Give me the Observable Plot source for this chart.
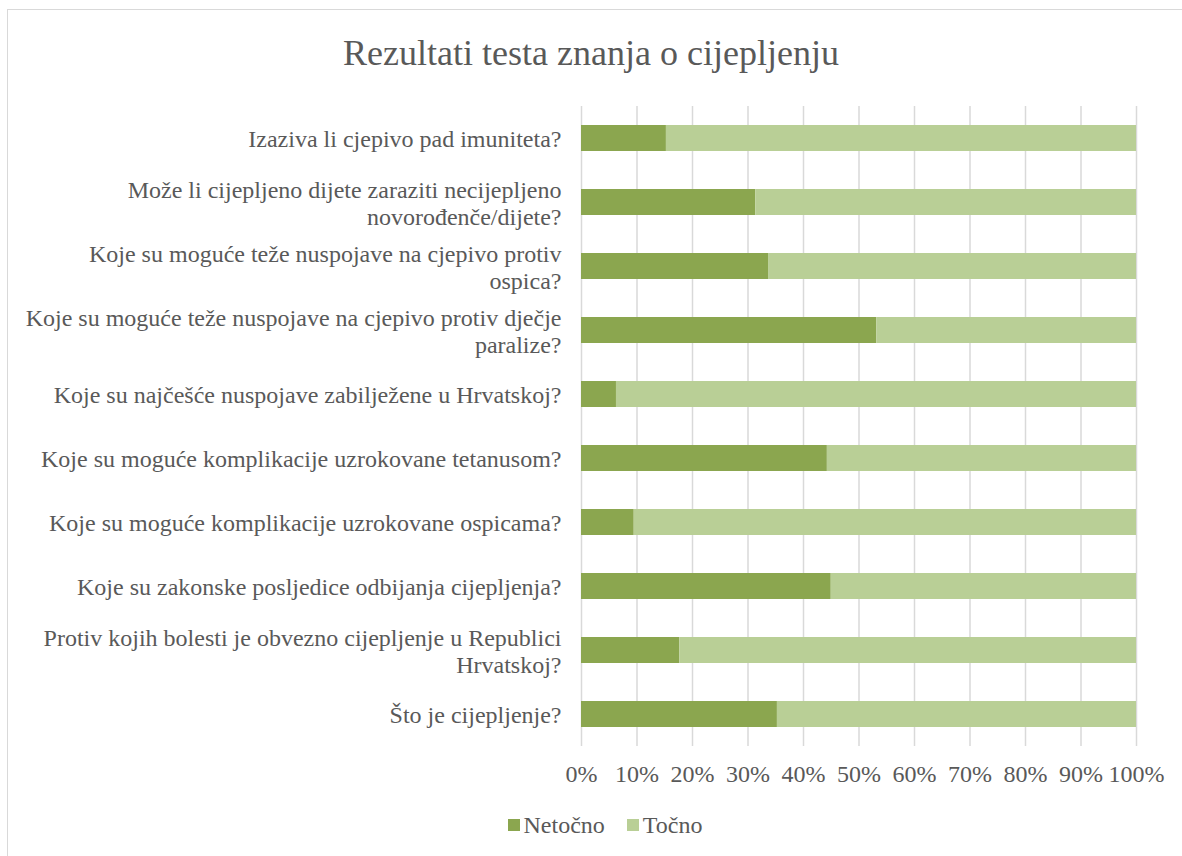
<!DOCTYPE html>
<html>
<head>
<meta charset="utf-8">
<script src="https://cdn.jsdelivr.net/npm/d3@7"></script>
<script src="https://cdn.jsdelivr.net/npm/@observablehq/plot@0.6"></script>
<style>
  html, body { margin: 0; padding: 0; background: #fff; overflow: hidden; }
  body { width: 1182px; height: 856px; position: relative; font-family: "Liberation Serif", "Times New Roman", serif; color: #595959; }
  #frame { position: absolute; left: 7px; top: 9px; width: 1300px; height: 1000px; border: 1px solid #D9D9D9; box-sizing: border-box; pointer-events: none; }
  #title { box-sizing: border-box; height: 80px; padding-top: 35px; font-size: 36px; line-height: 36px; text-align: center; white-space: nowrap; }
  #legend { display: flex; justify-content: center; align-items: center; padding-left: 28px; margin-top: 10px; font-size: 24px; line-height: 30px; }
  .item { display: flex; align-items: center; margin: 0 11px; }
  .sw { width: 12px; height: 12px; margin-right: 4px; }
</style>
</head>
<body>
<div id="frame"></div>
<div id="title">Rezultati testa znanja o cijepljenju</div>
<div id="chart"></div>
<div id="legend"></div>
<script>
const questions = [
  "Izaziva li cjepivo pad imuniteta?",
  "Može li cijepljeno dijete zaraziti necijepljeno\nnovorođenče/dijete?",
  "Koje su moguće teže nuspojave na cjepivo protiv\nospica?",
  "Koje su moguće teže nuspojave na cjepivo protiv dječje\nparalize?",
  "Koje su najčešće nuspojave zabilježene u Hrvatskoj?",
  "Koje su moguće komplikacije uzrokovane tetanusom?",
  "Koje su moguće komplikacije uzrokovane ospicama?",
  "Koje su zakonske posljedice odbijanja cijepljenja?",
  "Protiv kojih bolesti je obvezno cijepljenje u Republici\nHrvatskoj?",
  "Što je cijepljenje?"
];
const series = ["Netočno", "Točno"];
const netocno = [15.3, 31.4, 33.7, 53.2, 6.3, 44.3, 9.5, 45.0, 17.7, 35.3];
const tocno   = [84.7, 68.6, 66.3, 46.8, 93.7, 55.7, 90.5, 55.0, 82.3, 64.7];
const ticks = [0, 10, 20, 30, 40, 50, 60, 70, 80, 90, 100];
const colors = ["#8BA64F", "#B9CF96"];

const rows = [];
questions.forEach((q, i) => {
  rows.push({question: q, answer: series[0], value: netocno[i]});
  rows.push({question: q, answer: series[1], value: tocno[i]});
});

const chart = Plot.plot({
  width: 1182,
  height: 720,
  marginTop: 26,
  marginBottom: 54,
  marginLeft: 581,
  marginRight: 46,
  style: {fontFamily: '"Liberation Serif", "Times New Roman", serif', fontSize: "24px", color: "#595959", background: "transparent"},
  x: {domain: [0, 100], ticks: ticks, label: null},
  y: {domain: questions, paddingInner: 0.59, paddingOuter: 0.295, align: 0.5, label: null},
  color: {domain: series, range: colors},
  marks: [
    Plot.ruleX(ticks, {stroke: "#D9D9D9", strokeWidth: 1.5}),
    Plot.barX(rows, {x: "value", y: "question", fill: "answer"}),
    Plot.axisX({ticks: ticks, tickSize: 0, tickPadding: 18, tickFormat: d => d + "%", fontSize: 24, fill: "#595959", label: null}),
    Plot.axisY({tickSize: 0, tickPadding: 20, fontSize: 24, fill: "#595959", lineHeight: 1.12, label: null, textOverflow: null})
  ]
});
document.getElementById("chart").appendChild(chart);

const legend = document.getElementById("legend");
series.forEach((s, i) => {
  const it = document.createElement("div");
  it.className = "item";
  const sw = document.createElement("div");
  sw.className = "sw";
  sw.style.background = colors[i];
  it.appendChild(sw);
  const t = document.createElement("span");
  t.textContent = s;
  it.appendChild(t);
  legend.appendChild(it);
});
</script>
</body>
</html>
